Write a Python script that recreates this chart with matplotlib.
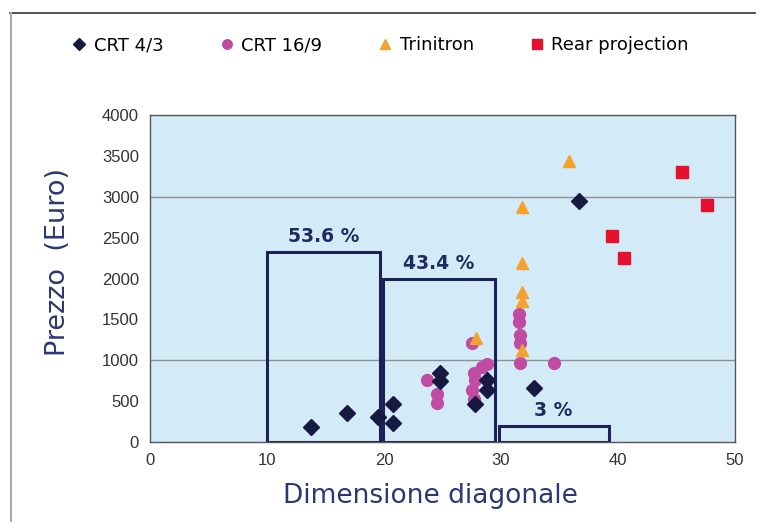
import matplotlib
matplotlib.use("Agg")
import matplotlib.pyplot as plt
from matplotlib.lines import Line2D

# data
crt43_x = [13.8, 16.8, 19.5, 20.8, 20.8, 24.8, 24.8, 27.8, 28.8, 28.8, 32.8, 36.7]
crt43_y = [180, 350, 310, 470, 230, 850, 750, 470, 760, 630, 660, 2945]

crt169_x = [23.7, 24.5, 24.5, 27.5, 27.7, 27.8, 28.4, 28.8, 27.5, 27.7, 31.5, 31.5, 31.6, 31.6, 31.6, 34.5]
crt169_y = [760, 590, 480, 1210, 840, 760, 920, 960, 640, 530, 1570, 1470, 1310, 1210, 970, 970]

trinitron_x = [27.9, 31.8, 31.8, 31.8, 31.8, 31.8, 35.8]
trinitron_y = [1270, 1130, 1720, 1830, 2190, 2870, 3440]

rear_x = [39.5, 40.5, 45.5, 47.6]
rear_y = [2520, 2245, 3305, 2905]

box_left = [10, 19.9, 29.8]
box_width = [9.7, 9.6, 9.4]
box_height = [2330, 2000, 200]
box_labels = ["53.6 %", "43.4 %", "3 %"]

grid_y = [1000, 3000]
xticks = [0, 10, 20, 30, 40, 50]
yticks = [0, 500, 1000, 1500, 2000, 2500, 3000, 3500, 4000]

navy = "#1f2a5e"

fig = plt.figure(figsize=(7.59, 5.22), dpi=100)
ax = fig.add_axes([150/759, 1-442/522, 585/759, 327/522])
ax.set_facecolor("#d3ebf6")

for g in grid_y:
    ax.axhline(g, color="#8c9196", lw=1, zorder=1)

# percentage boxes
ax.bar(box_left, box_height, width=box_width, align="edge", fill=False,
       edgecolor="#1c2157", linewidth=2.2, zorder=2)
for l, w, h, t in zip(box_left, box_width, box_height, box_labels):
    ax.text(l + w/2, h + 70, t, ha="center", va="bottom", fontsize=13.5,
            fontweight="heavy", color=navy, zorder=5)

ax.plot(crt43_x, crt43_y, "D", color="#161a40", ms=8, ls="none", zorder=4, label="CRT 4/3")
ax.plot(crt169_x, crt169_y, "o", color="#c04ba3", ms=8.5, ls="none", zorder=3, label="CRT 16/9")
ax.plot(trinitron_x, trinitron_y, "^", color="#f5a12e", ms=8.5, ls="none", zorder=3, label="Trinitron")
ax.plot(rear_x, rear_y, "s", color="#e4102e", ms=9, ls="none", zorder=3, label="Rear projection")

ax.set_xlim(0, 50)
ax.set_ylim(0, 4000)
ax.set_xticks(xticks)
ax.set_yticks(yticks)
ax.tick_params(length=0, labelsize=12, colors="#333333", pad=8)
for lab in ax.get_xticklabels() + ax.get_yticklabels():
    lab.set_family("Liberation Sans")
for s in ax.spines.values():
    s.set_color("#555555")
    s.set_linewidth(1)

ax.set_xlabel("Dimensione diagonale", fontsize=19, color="#2c3675")
ax.xaxis.set_label_coords(280/585, -0.125)
ax.set_ylabel("Prezzo  (Euro)", fontsize=19.5, color="#2c3675")
ax.yaxis.set_label_coords(-0.135, 0.55)

fig.legend(loc="center", bbox_to_anchor=(0.5, 1-45/522), ncol=4, frameon=False,
           fontsize=13, handletextpad=0.3, columnspacing=3.0, handlelength=1.0,
           markerscale=0.8)

# outer frame lines
fig.add_artist(Line2D([10/759, 755/759], [1-13/522, 1-13/522], color="#333333", lw=1.2))
fig.add_artist(Line2D([11/759, 11/759], [0, 1-13/522], color="#aaaaaa", lw=1.5))

fig.savefig("out.png", dpi=100)
